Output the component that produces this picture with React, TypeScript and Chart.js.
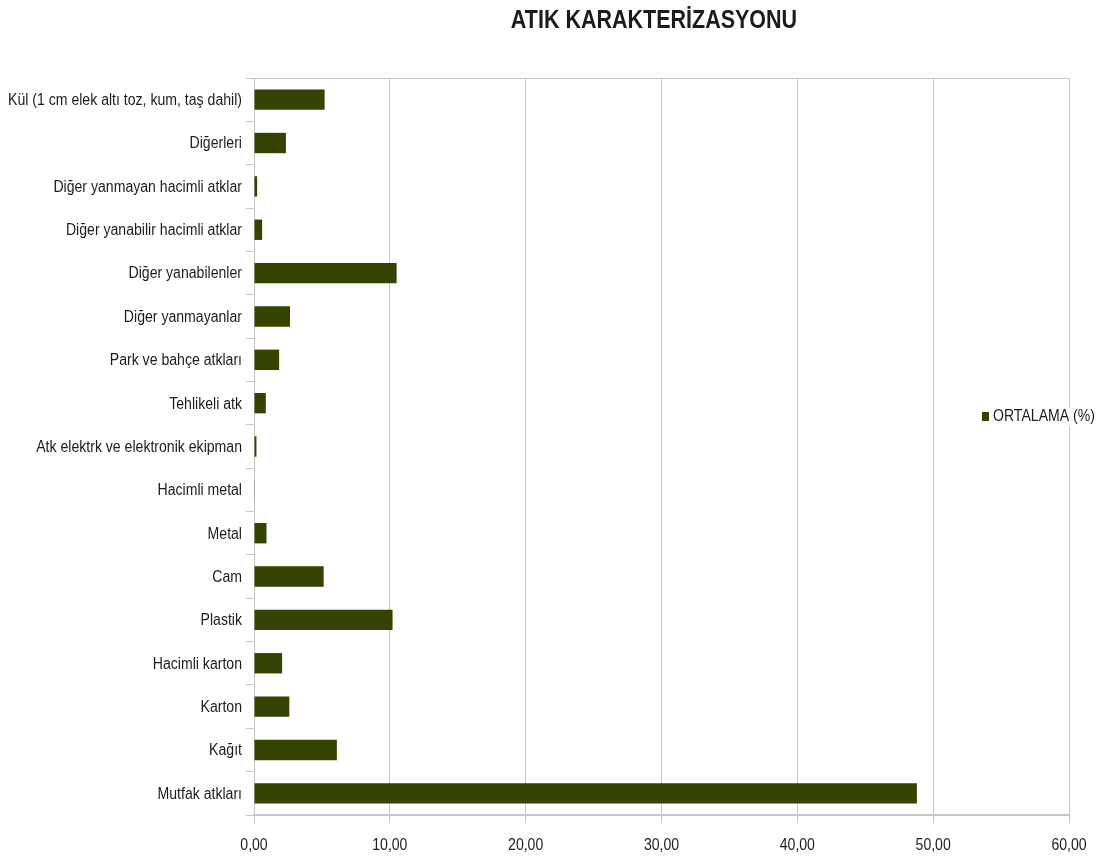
import React, { useEffect, useRef } from "react";
import { Chart, registerables } from "chart.js";

Chart.register(...registerables);

const TITLE = "ATIK KARAKTERİZASYONU";
const SERIES_LABEL = "ORTALAMA (%)";

const categories: string[] = [
  "Kül (1 cm elek altı toz, kum, taş dahil)",
  "Diğerleri",
  "Diğer yanmayan hacimli atklar",
  "Diğer yanabilir hacimli atklar",
  "Diğer yanabilenler",
  "Diğer yanmayanlar",
  "Park ve bahçe atkları",
  "Tehlikeli atk",
  "Atk elektrk ve elektronik ekipman",
  "Hacimli metal",
  "Metal",
  "Cam",
  "Plastik",
  "Hacimli karton",
  "Karton",
  "Kağıt",
  "Mutfak atkları",
];

const values: number[] = [
  5.2, 2.35, 0.23, 0.6, 10.5, 2.65, 1.85, 0.87, 0.18, 0.05, 0.92, 5.13, 10.2,
  2.07, 2.6, 6.1, 48.8,
];

const xTicks: number[] = [0, 10, 20, 30, 40, 50, 60];

const BAR_COLOR = "#354300";
const GRID_COLOR = "#c6c6c6";
const TEXT_COLOR = "#1c1c1c";
const FONT = "'Liberation Sans', Arial, sans-serif";
const SX = 0.88;

function drawText(
  ctx: CanvasRenderingContext2D,
  text: string,
  x: number,
  y: number,
  size: number,
  align: "left" | "right" | "center",
  weight = "normal",
  sx = SX
) {
  ctx.save();
  ctx.font = `${weight} ${size}px ${FONT}`;
  ctx.fillStyle = TEXT_COLOR;
  ctx.textBaseline = "middle";
  ctx.textAlign = align;
  ctx.translate(x, y);
  ctx.scale(sx, 1);
  ctx.fillText(text, 0, 0);
  ctx.restore();
}

export default function App() {
  const ref = useRef<HTMLCanvasElement | null>(null);

  useEffect(() => {
    document.body.style.margin = "0";
    const canvas = ref.current!;
    const overlay = {
      id: "overlay",
      afterDraw(chart: any) {
        const ctx = chart.ctx as CanvasRenderingContext2D;
        const area = chart.chartArea;
        const xs = chart.scales.x;
        const ys = chart.scales.y;
        ctx.save();
        ctx.strokeStyle = GRID_COLOR;
        ctx.lineWidth = 1;
        ctx.beginPath();
        ctx.moveTo(area.left, area.top + 0.5);
        ctx.lineTo(area.right, area.top + 0.5);
        ctx.stroke();
        ctx.restore();
        // title
        drawText(ctx, TITLE, 654, 21, 25, "center", "bold", 0.86);
        // y labels
        categories.forEach((c, i) => {
          drawText(ctx, c, area.left - 12, ys.getPixelForTick(i) + 1, 16, "right");
        });
        // x labels
        xTicks.forEach((v) => {
          drawText(ctx, v.toFixed(2).replace(".", ","), xs.getPixelForValue(v), 846, 16, "center");
        });
        // legend
        ctx.save();
        ctx.font = `16px ${FONT}`;
        const tw = ctx.measureText(SERIES_LABEL).width * SX;
        const lx = 982;
        const ly = 417;
        ctx.fillStyle = "#ffffff";
        ctx.fillRect(lx - 3, ly - 9, tw + 16, 18);
        ctx.fillStyle = BAR_COLOR;
        ctx.fillRect(lx, ly - 5, 7, 9);
        ctx.restore();
        drawText(ctx, SERIES_LABEL, lx + 11, ly, 16, "left");
      },
    };

    const chart = new Chart(canvas, {
      type: "bar",
      data: {
        labels: categories,
        datasets: [
          {
            label: SERIES_LABEL,
            data: values,
            backgroundColor: BAR_COLOR,
            borderWidth: 0,
            categoryPercentage: 1,
            barPercentage: 0.47,
          },
        ],
      },
      options: {
        indexAxis: "y",
        animation: false,
        responsive: false,
        maintainAspectRatio: false,
        layout: { padding: { top: 78, right: 36, left: 0, bottom: 0 } },
        plugins: {
          legend: { display: false },
          title: { display: false },
          tooltip: { enabled: false },
        },
        scales: {
          x: {
            type: "linear",
            min: 0,
            max: 60,
            afterBuildTicks: (s: any) => {
              s.ticks = xTicks.map((v) => ({ value: v }));
            },
            afterFit: (s: any) => {
              s.height = 48;
            },
            ticks: { display: false },
            grid: {
              color: GRID_COLOR,
              lineWidth: 1,
              drawTicks: true,
              tickLength: 8,
            },
            border: { color: GRID_COLOR, width: 2 },
          },
          y: {
            afterFit: (s: any) => {
              s.width = 254;
            },
            ticks: { display: false },
            grid: {
              display: true,
              drawOnChartArea: false,
              drawTicks: true,
              tickLength: 8,
              color: GRID_COLOR,
              offset: true,
            },
            border: { color: GRID_COLOR, width: 1 },
          },
        },
      },
      plugins: [overlay],
    });
    return () => chart.destroy();
  }, []);

  return (
    <div style={{ position: "fixed", left: 0, top: 0, width: 1105, height: 863, background: "#fff" }}>
      <canvas ref={ref} width={1105} height={863} style={{ width: 1105, height: 863 }} />
    </div>
  );
}
